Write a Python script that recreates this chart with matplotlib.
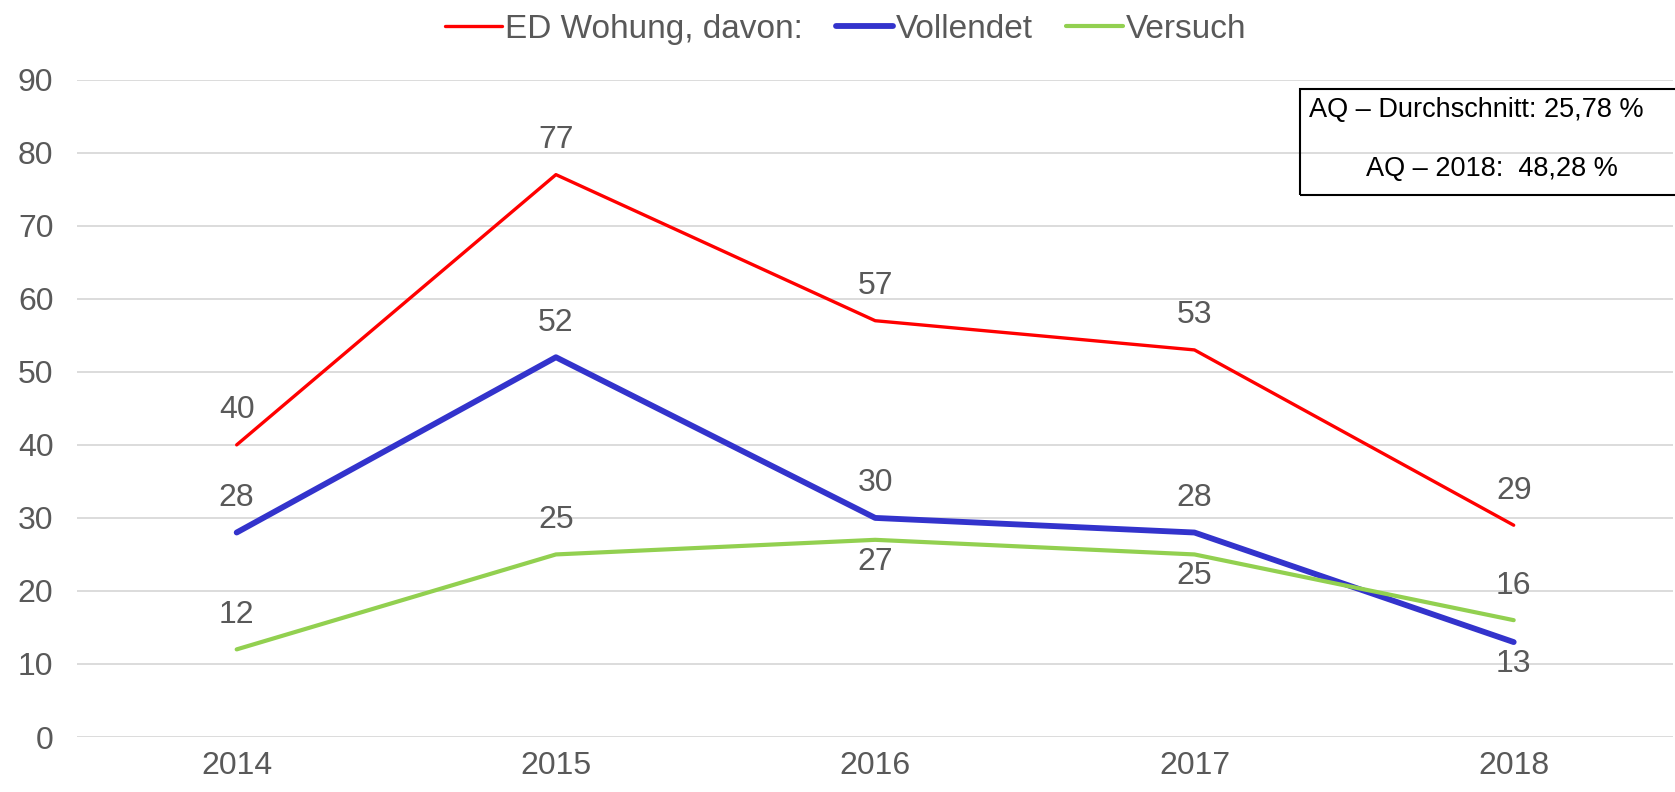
import matplotlib.pyplot as plt
from matplotlib.patches import Rectangle

plt.rcParams['font.family'] = ['Liberation Sans', 'DejaVu Sans']

years = ['2014', '2015', '2016', '2017', '2018']
ed_wohnung = [40, 77, 57, 53, 29]
vollendet = [28, 52, 30, 28, 13]
versuch = [12, 25, 27, 25, 16]

# Lage der Datenbeschriftung: 1 = oberhalb, -1 = unterhalb
pos_ed = [1, 1, 1, 1, 1]
pos_voll = [1, 1, 1, 1, -1]
pos_vers = [1, 1, -1, -1, 1]

grau = '#595959'

fig = plt.figure(figsize=(16.75, 7.92), dpi=100)
ax = fig.add_axes([0.046, 0.0694, 0.953, 0.83])

x = range(len(years))
serien = [
    (ed_wohnung, pos_ed, '#FF0000', 2.4, 'ED Wohung, davon:'),
    (vollendet, pos_voll, '#3333CC', 4.2, 'Vollendet'),
    (versuch, pos_vers, '#92D050', 3.0, 'Versuch'),
]

for werte, pos, farbe, lw, name in serien:
    ax.plot(x, werte, color=farbe, lw=lw, label=name, solid_capstyle='round', zorder=3)
    for xi, w, p in zip(x, werte, pos):
        if p > 0:
            ax.annotate(str(w), (xi, w), xytext=(0, 14), textcoords='offset points',
                        ha='center', va='bottom', fontsize=23, color=grau)
        else:
            ax.annotate(str(w), (xi, w), xytext=(0, -5), textcoords='offset points',
                        ha='center', va='top', fontsize=23, color=grau)

ax.set_xlim(-0.5, 4.5)
ax.set_ylim(0, 90)
ax.set_yticks(range(0, 91, 10))
ax.set_xticks(list(x))
ax.set_xticklabels(years)
ax.grid(axis='y', color='#D9D9D9', lw=1.3)
ax.set_axisbelow(True)
for s in ax.spines.values():
    s.set_visible(False)
ax.tick_params(axis='both', length=0, labelsize=23, colors=grau)
ax.tick_params(axis='y', pad=17)
ax.tick_params(axis='x', pad=10)

fig.legend(loc='upper center', bbox_to_anchor=(0.505, 1.02), ncol=3, frameon=False,
           fontsize=24, handlelength=1.7, handletextpad=0.1, columnspacing=1.0,
           labelcolor=grau)

# Kasten mit Aufklärungsquote
fig.patches.append(Rectangle((1300 / 1675, 1 - 195 / 792), 0.25, 106 / 792,
                             transform=fig.transFigure, fill=False, ec='black', lw=1.5))
fig.text(1476 / 1675, 1 - 110 / 792, 'AQ – Durchschnitt: 25,78 %', ha='center', va='center',
         fontsize=19.5, color='black')
fig.text(1492 / 1675, 1 - 169 / 792, 'AQ – 2018:  48,28 %', ha='center', va='center',
         fontsize=19.5, color='black')

fig.savefig('out.png', dpi=100)
